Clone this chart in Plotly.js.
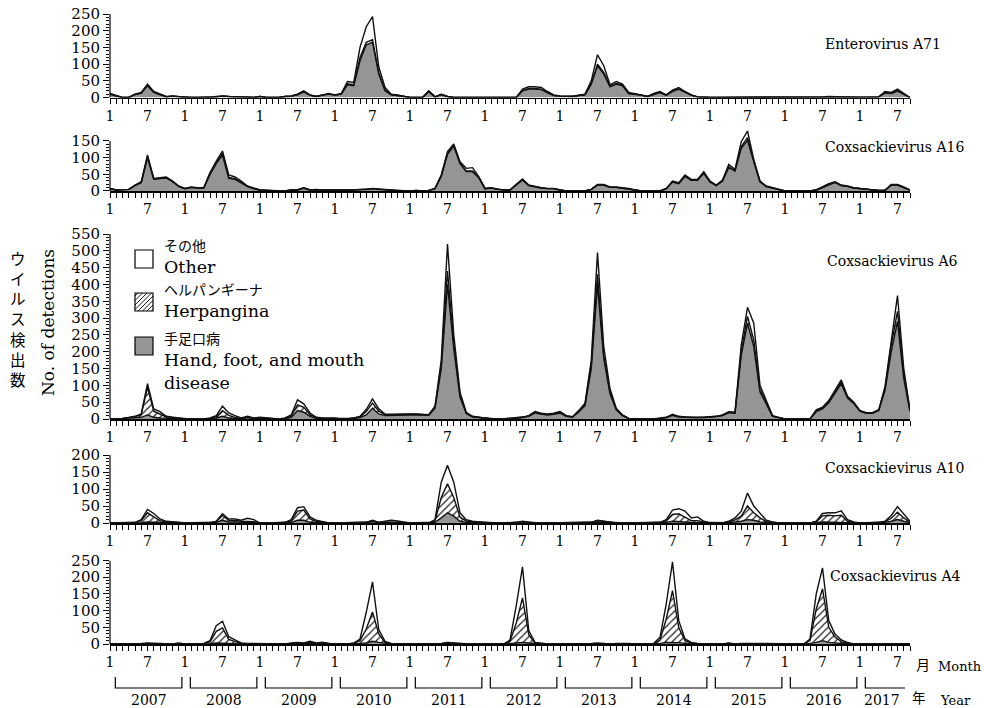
<!DOCTYPE html>
<html><head><meta charset="utf-8">
<script src="https://cdn.plot.ly/plotly-3.0.1.min.js"></script>
<style>html,body{margin:0;padding:0;background:#fff;} #chart{width:984px;height:708px;}</style>
</head><body><div id="chart"></div>
<script>
// ---- data: monthly detections, Jan 2007 .. Sep 2017 ----
const years = [2007,2008,2009,2010,2011,2012,2013,2014,2015,2016,2017];
const monthsInLastYear = 9;

const ev71_hfmd = [
 10,4,0,0,9,13,35,15,8,2,4,2,
 0,0,0,0,0,2,4,2,2,2,0,0,
 3,0,0,0,3,4,8,17,7,3,7,10,
 7,10,38,35,110,158,165,70,20,8,6,3,
 0,0,0,18,2,9,3,0,0,0,0,0,
 0,0,0,0,2,0,20,25,25,24,14,6,
 4,3,3,6,8,40,95,70,32,40,35,12,
 10,7,3,10,15,7,18,25,15,7,2,0,
 0,0,0,0,0,0,0,0,0,0,0,0,
 0,0,0,0,0,0,2,2,2,2,0,0,
 0,0,0,2,14,12,19,9,0];
const ev71_herp = [
 1,0,0,0,0,1,2,1,1,0,0,0,
 0,0,0,0,0,0,0,0,0,0,0,0,
 0,0,0,0,0,0,1,1,0,0,0,0,
 0,0,3,3,10,7,8,5,3,0,0,0,
 0,0,0,0,0,0,0,0,0,0,0,0,
 0,0,0,0,0,0,1,2,2,1,1,0,
 0,0,0,0,1,2,5,5,2,3,2,0,
 0,0,0,0,1,0,1,1,1,0,0,0,
 0,0,0,0,0,0,0,0,0,0,0,0,
 0,0,0,0,0,0,0,0,0,0,0,0,
 0,0,0,0,1,1,2,1,0];
const ev71_other = [
 1,1,0,0,1,1,3,2,1,1,1,0,
 0,0,0,0,0,1,1,1,0,0,0,0,
 0,0,0,0,0,1,1,2,1,0,1,2,
 1,2,7,7,30,47,69,17,7,2,2,0,
 0,0,0,2,0,1,0,0,0,0,0,0,
 0,0,0,0,0,0,4,5,5,5,3,2,
 1,1,1,1,1,8,28,20,4,5,3,3,
 2,1,0,2,2,1,3,4,2,1,0,0,
 0,0,0,0,0,0,0,0,0,0,0,0,
 0,0,0,0,0,0,0,1,0,0,0,0,
 0,0,0,0,3,2,4,2,0];

const cva16_hfmd = [
 7,3,4,5,16,25,100,35,37,39,28,14,
 7,11,9,9,50,82,108,38,35,25,13,7,
 3,2,0,0,0,3,3,9,3,4,3,3,
 3,2,2,3,4,4,7,5,4,2,0,0,
 0,2,0,2,7,44,110,135,82,58,58,40,
 7,9,5,3,3,18,33,16,12,9,7,7,
 3,0,0,0,0,5,18,18,11,11,9,7,
 3,0,0,0,0,7,27,22,44,32,32,53,
 27,16,30,70,60,128,152,88,27,13,9,3,
 0,0,0,0,0,3,11,20,26,16,14,9,
 7,5,3,2,2,18,18,11,3];
const cva16_herp = [
 0,0,0,0,1,1,3,1,1,1,1,0,
 0,0,0,0,2,3,5,3,2,2,1,0,
 0,0,0,0,0,0,0,0,0,0,0,0,
 0,0,0,0,0,0,0,0,0,0,0,0,
 0,0,0,0,0,1,3,2,2,2,2,1,
 0,0,0,0,0,1,1,1,0,0,0,0,
 0,0,0,0,0,0,0,0,0,0,0,0,
 0,0,0,0,0,0,1,1,1,1,1,1,
 1,1,1,3,1,5,8,2,1,1,0,0,
 0,0,0,0,0,0,0,0,0,0,0,0,
 0,0,0,0,0,0,0,0,0];
const cva16_other = [
 1,0,0,0,1,2,5,2,2,2,1,1,
 1,1,1,1,3,5,7,7,5,3,1,1,
 0,0,0,0,0,0,0,1,0,1,0,0,
 0,0,0,0,1,1,1,1,1,0,0,0,
 0,0,0,0,1,3,5,4,4,8,10,2,
 1,1,0,0,0,1,2,1,1,1,1,1,
 0,0,0,0,0,0,2,2,1,1,1,1,
 0,0,0,0,0,1,2,2,3,2,2,4,
 2,1,2,7,4,15,20,5,2,1,1,0,
 0,0,0,0,0,0,1,2,2,2,1,1,
 1,0,0,0,0,2,2,1,0];

const cva6_hfmd = [
 0,0,1,3,4,5,12,5,3,2,2,1,
 0,0,0,0,1,3,8,3,2,1,4,1,
 3,2,0,0,1,5,25,20,8,2,2,2,
 2,0,0,2,4,12,32,15,10,11,12,12,
 12,12,11,11,32,150,400,210,65,16,6,4,
 2,0,0,0,2,2,4,8,18,14,12,14,
 18,8,6,21,40,150,400,180,75,27,10,2,
 0,0,0,0,2,4,11,6,5,4,4,4,
 6,7,10,19,17,190,285,215,80,45,8,4,
 0,0,0,0,0,22,30,48,75,105,62,46,
 23,17,17,25,85,200,290,120,22];
const cva6_herp = [
 0,0,1,1,3,8,83,18,12,4,2,1,
 0,0,0,0,1,4,17,8,3,1,2,1,
 1,0,0,0,1,4,17,15,5,2,0,0,
 0,0,0,1,2,10,15,8,3,2,2,2,
 2,2,2,1,3,10,40,15,5,2,1,0,
 0,0,0,0,0,0,0,1,2,1,1,1,
 2,1,0,2,3,10,30,10,5,2,1,0,
 0,0,0,0,0,0,1,1,0,0,0,0,
 0,0,1,1,1,12,20,20,8,4,1,0,
 0,0,0,0,0,2,2,3,4,5,3,2,
 1,1,1,1,5,20,30,15,2];
const cva6_other = [
 0,0,0,1,1,2,10,7,7,2,1,1,
 0,0,0,0,1,3,13,7,5,1,2,1,
 1,1,0,0,1,3,15,10,5,1,1,1,
 1,0,0,0,2,6,13,7,2,1,1,1,
 1,1,1,1,3,15,80,25,10,2,1,1,
 1,0,0,0,0,1,1,1,2,2,2,2,
 2,1,1,2,4,15,65,25,10,3,1,0,
 0,0,0,0,1,1,2,1,1,1,1,1,
 1,1,1,2,2,18,27,50,12,6,1,1,
 0,0,0,0,0,3,3,4,6,6,3,2,
 1,1,1,2,6,20,47,15,3];

const cva10_hfmd = [
 0,0,0,0,0,1,3,3,2,1,1,0,
 0,0,0,0,0,2,8,3,3,2,2,2,
 0,0,0,0,0,2,8,8,2,1,0,0,
 0,0,0,0,0,1,4,1,1,2,1,0,
 0,0,0,0,2,15,30,20,5,2,1,1,
 1,0,0,0,0,1,2,1,0,0,0,0,
 0,0,0,0,0,1,3,2,1,0,0,0,
 0,0,0,0,0,2,5,5,3,2,2,1,
 0,0,0,1,3,5,10,8,3,1,0,0,
 0,0,0,0,0,1,3,3,3,3,1,0,
 0,0,0,0,2,5,10,5,1];
const cva10_herp = [
 0,0,0,0,1,6,27,15,5,2,1,0,
 0,0,0,0,0,2,14,5,5,3,2,2,
 0,0,0,0,1,5,27,30,10,4,2,0,
 0,0,0,0,0,1,3,1,1,1,1,0,
 0,0,0,0,4,60,85,55,12,4,2,1,
 1,0,0,0,0,1,2,1,0,0,0,0,
 0,0,0,0,0,1,4,2,1,0,0,0,
 0,0,0,0,1,5,20,22,15,5,5,2,
 0,0,0,2,6,15,40,22,12,3,1,0,
 0,0,0,0,0,2,18,20,18,20,4,1,
 0,0,0,1,2,9,22,10,2];
const cva10_other = [
 0,0,0,0,1,3,10,10,5,2,1,0,
 0,0,0,0,0,1,5,4,4,3,10,6,
 0,0,0,0,1,3,10,10,6,3,1,0,
 0,0,0,0,0,0,1,0,3,5,4,2,
 0,0,0,0,4,45,55,45,13,4,2,1,
 0,0,0,0,0,0,1,0,0,0,0,0,
 0,0,0,0,0,0,1,1,0,0,0,0,
 0,0,0,0,1,3,13,15,17,8,11,2,
 0,0,0,2,6,15,38,20,15,4,2,0,
 0,0,0,0,0,2,7,7,9,13,5,2,
 0,0,0,1,1,8,16,10,2];

const cva4_hfmd = [
 0,0,0,0,0,0,1,0,0,0,0,1,
 0,0,0,0,1,3,3,2,1,0,0,0,
 0,0,0,0,0,1,1,1,2,1,1,0,
 0,0,0,0,2,3,8,5,2,0,0,0,
 0,0,0,0,0,0,1,1,0,0,0,0,
 0,0,0,0,1,3,5,3,1,0,0,0,
 0,0,0,0,0,0,1,0,0,0,1,0,
 0,0,0,0,2,5,5,4,2,1,0,0,
 0,0,0,1,0,0,0,0,0,0,0,0,
 0,0,0,0,2,5,10,5,3,1,0,0,
 0,0,0,0,0,0,0,0,0];
const cva4_herp = [
 0,0,0,0,0,1,1,1,0,0,0,1,
 0,0,0,1,5,35,45,12,6,2,1,1,
 0,0,0,0,0,1,2,1,3,1,2,1,
 0,0,0,2,8,42,88,25,3,1,0,0,
 0,0,0,0,0,1,2,1,0,0,0,0,
 0,0,0,0,7,60,133,25,2,1,0,0,
 0,0,0,0,0,1,1,1,0,1,1,1,
 0,0,0,1,10,70,155,45,8,2,1,0,
 0,0,0,1,0,1,1,1,0,0,0,0,
 0,0,0,0,8,100,155,45,18,6,2,0,
 0,0,0,0,0,0,0,0,0];
const cva4_other = [
 0,0,0,0,0,1,1,1,0,0,0,1,
 0,0,0,1,4,17,20,8,5,1,1,1,
 0,0,0,0,0,1,2,1,3,1,2,1,
 0,0,0,1,5,50,90,13,3,1,0,0,
 0,0,0,0,0,1,2,1,0,0,0,0,
 0,0,0,0,4,52,93,12,2,1,0,0,
 0,0,0,0,0,1,1,1,0,1,1,1,
 0,0,0,1,8,45,86,21,5,2,1,0,
 0,0,0,1,0,1,1,1,0,0,0,0,
 0,0,0,0,5,45,63,20,9,5,3,0,
 0,0,0,0,0,0,0,0,0];

const virusNames = ['Enterovirus A71','Coxsackievirus A16','Coxsackievirus A6','Coxsackievirus A10','Coxsackievirus A4'];
const yMax = [250,150,550,200,250];
const seriesNames = ['手足口病 Hand, foot, and mouth disease','ヘルパンギーナ Herpangina','その他 Other'];

// ---- geometry (page pixels) ----
const W = 984, H = 708;
const plotL = 110, plotR = 910;
const panelPx = [[14,97.5],[141,191],[234,419],[455,523],[560.5,644]]; // [axis top, zero-line]
const labelPx = [[823,44],[823,147],[825,261],[823,468],[828,576]];
const serif = 'DejaVu Serif';
const jp = 'Noto Sans CJK JP';
const GRAY = '#959595';

const nMonths = (years.length-1)*12 + monthsInLastYear;
const xIdx = [], tickText = [];
for (let i=0;i<nMonths;i++){ const m=i%12+1; xIdx.push(i); tickText.push((m===1||m===7)?String(m):''); }

const groups = [
  [ev71_hfmd, ev71_herp, ev71_other],
  [cva16_hfmd, cva16_herp, cva16_other],
  [cva6_hfmd, cva6_herp, cva6_other],
  [cva10_hfmd, cva10_herp, cva10_other],
  [cva4_hfmd, cva4_herp, cva4_other]
];

const traces = [];
const layout = {
  width: W, height: H, margin:{l:0,r:0,t:0,b:0},
  paper_bgcolor:'#fff', plot_bgcolor:'rgba(0,0,0,0)', showlegend:false,
  annotations: [], shapes: []
};
const px2x = p => p/W, px2y = p => 1 - p/H;

groups.forEach((g,k)=>{
  const n = k+1, xs = n===1?'x':'x'+n, ys = n===1?'y':'y'+n;
  const lineStyle = {color:'#111', width:1.4, shape:'linear'};
  traces.push({x:xIdx, y:g[0], xaxis:xs, yaxis:ys, stackgroup:'s'+n, mode:'lines', name:seriesNames[0],
    line:lineStyle, fillcolor:GRAY});
  traces.push({x:xIdx, y:g[1], xaxis:xs, yaxis:ys, stackgroup:'s'+n, mode:'lines', name:seriesNames[1],
    line:lineStyle, fillcolor:'#fff', fillpattern:{shape:'/', fgcolor:'#222', bgcolor:'#fff', size:5, solidity:0.25}});
  traces.push({x:xIdx, y:g[2], xaxis:xs, yaxis:ys, stackgroup:'s'+n, mode:'lines', name:seriesNames[2],
    line:lineStyle, fillcolor:'#fff'});

  // let peaks rise above the axis top, as in the original figure
  let peak = 0;
  for (let i=0;i<nMonths;i++) peak = Math.max(peak, g[0][i]+g[1][i]+g[2][i]);
  const [top, bot] = panelPx[k];
  const pxPerUnit = (bot-top)/yMax[k];
  const rTop = Math.max(yMax[k], peak + 4);
  const domTopPx = bot - rTop*pxPerUnit;

  const majors = [], minors = [];
  for (let v=0; v<=yMax[k]; v+=10) (v%50===0 ? majors : minors).push(v);

  layout[n===1?'xaxis':'xaxis'+n] = {
    domain:[px2x(plotL), px2x(plotR)], range:[0, nMonths-1], anchor:ys,
    showline:true, linecolor:'#000', linewidth:1.6, ticks:'outside', ticklen:5, tickwidth:1, tickcolor:'#000',
    tickmode:'array', tickvals:xIdx, ticktext:tickText, tickangle:0, showgrid:false, zeroline:false,
    tickfont:{family:serif, size:14, color:'#000'}, fixedrange:true
  };
  layout[n===1?'yaxis':'yaxis'+n] = {
    domain:[px2y(bot), px2y(domTopPx)], range:[0, rTop], anchor:xs,
    showline:false, ticks:'outside', ticklen:6, tickwidth:1, tickcolor:'#000',
    tickmode:'array', tickvals:majors, ticktext:majors.map(String), showgrid:false, zeroline:false,
    minor:{tickmode:'array', tickvals:minors, ticks:'outside', ticklen:3, tickwidth:1, tickcolor:'#000', showgrid:false},
    tickfont:{family:serif, size:15, color:'#000'}, fixedrange:true
  };
  layout.shapes.push({type:'line', xref:'paper', yref:ys, x0:px2x(plotL), x1:px2x(plotL), y0:0, y1:yMax[k],
    line:{color:'#000', width:1.2}});
  layout.annotations.push({xref:'paper', yref:'paper', x:px2x(labelPx[k][0]), y:px2y(labelPx[k][1]),
    xanchor:'left', yanchor:'middle', showarrow:false, text:virusNames[k],
    font:{family:serif, size:14, color:'#000'}});
});

// axis titles
layout.annotations.push({xref:'paper', yref:'paper', x:px2x(18), y:px2y(318), xanchor:'center', yanchor:'middle',
  showarrow:false, text:'ウ<br>イ<br>ル<br>ス<br>検<br>出<br>数', font:{family:jp, size:15.5, color:'#000'}});
layout.annotations.push({xref:'paper', yref:'paper', x:px2x(48), y:px2y(323), xanchor:'center', yanchor:'middle',
  showarrow:false, textangle:-90, text:'No. of detections', font:{family:serif, size:17, color:'#000'}});

// legend (inside Coxsackievirus A6 panel)
const legendRows = [
  {jpTxt:'その他', enTxt:'Other', box:[135,250,153,268], fill:'#fff', hatch:false, jpY:245, enY:267},
  {jpTxt:'ヘルパンギーナ', enTxt:'Herpangina', box:[135,293,153,311], fill:'#fff', hatch:true, jpY:289, enY:311},
  {jpTxt:'手足口病', enTxt:'Hand, foot, and mouth<br>disease', box:[135,337,153,355], fill:GRAY, hatch:false, jpY:338, enY:371}
];
legendRows.forEach(r=>{
  const [x0,y0,x1,y1] = r.box;
  layout.shapes.push({type:'rect', xref:'paper', yref:'paper', x0:px2x(x0), x1:px2x(x1), y0:px2y(y1), y1:px2y(y0),
    fillcolor:r.fill, line:{color:'#000', width:1.2}});
  if (r.hatch){
    let d='';
    for (let c=x0+y0+3; c<x1+y1; c+=4.5){
      const pa = Math.max(x0, c-y1), pb = Math.min(x1, c-y0);
      if (pb<=pa) continue;
      d += `M${px2x(pa)},${px2y(c-pa)} L${px2x(pb)},${px2y(c-pb)} `;
    }
    layout.shapes.push({type:'path', xref:'paper', yref:'paper', path:d, line:{color:'#000', width:0.9}});
  }
  layout.annotations.push({xref:'paper', yref:'paper', x:px2x(162), y:px2y(r.jpY), xanchor:'left', yanchor:'middle',
    showarrow:false, text:r.jpTxt, font:{family:jp, size:14, color:'#000'}});
  layout.annotations.push({xref:'paper', yref:'paper', x:px2x(162), y:px2y(r.enY), xanchor:'left', yanchor:'middle', align:'left',
    showarrow:false, text:r.enTxt, font:{family:serif, size:17.5, color:'#000'}});
});

// year brackets + labels under bottom panel
const brTop = px2y(677), brBot = px2y(688);
years.forEach((yr,j)=>{
  const s = j*12 + 0.85;
  const last = (j===years.length-1);
  const e = last ? (nMonths-1) - 0.8 : j*12 + 11.5;
  const path = last ? `M${s},${brTop} L${s},${brBot} L${e},${brBot}`
                    : `M${s},${brTop} L${s},${brBot} L${e},${brBot} L${e},${brTop}`;
  layout.shapes.push({type:'path', xref:'x5', yref:'paper', path:path, line:{color:'#000', width:1.2}});
  layout.annotations.push({xref:'x5', yref:'paper', x:(s+e)/2 - (last?0.5:0), y:px2y(700), xanchor:'center', yanchor:'middle',
    borderpad:0, showarrow:false, text:String(yr), font:{family:serif, size:14, color:'#000'}});
});
layout.annotations.push({xref:'paper', yref:'paper', x:px2x(914), y:px2y(664), xanchor:'left', yanchor:'middle',
  showarrow:false, text:'月', font:{family:jp, size:14, color:'#000'}});
layout.annotations.push({xref:'paper', yref:'paper', x:px2x(936), y:px2y(666), xanchor:'left', yanchor:'middle',
  showarrow:false, text:'Month', font:{family:serif, size:13, color:'#000'}});
layout.annotations.push({xref:'paper', yref:'paper', x:px2x(911), y:px2y(697), xanchor:'left', yanchor:'middle',
  borderpad:0, showarrow:false, text:'年', font:{family:jp, size:13.5, color:'#000'}});
layout.annotations.push({xref:'paper', yref:'paper', x:px2x(939), y:px2y(700), xanchor:'left', yanchor:'middle',
  borderpad:0, showarrow:false, text:'Year', font:{family:serif, size:13, color:'#000'}});

Plotly.newPlot('chart', traces, layout, {displayModeBar:false, staticPlot:true});
</script></body></html>
